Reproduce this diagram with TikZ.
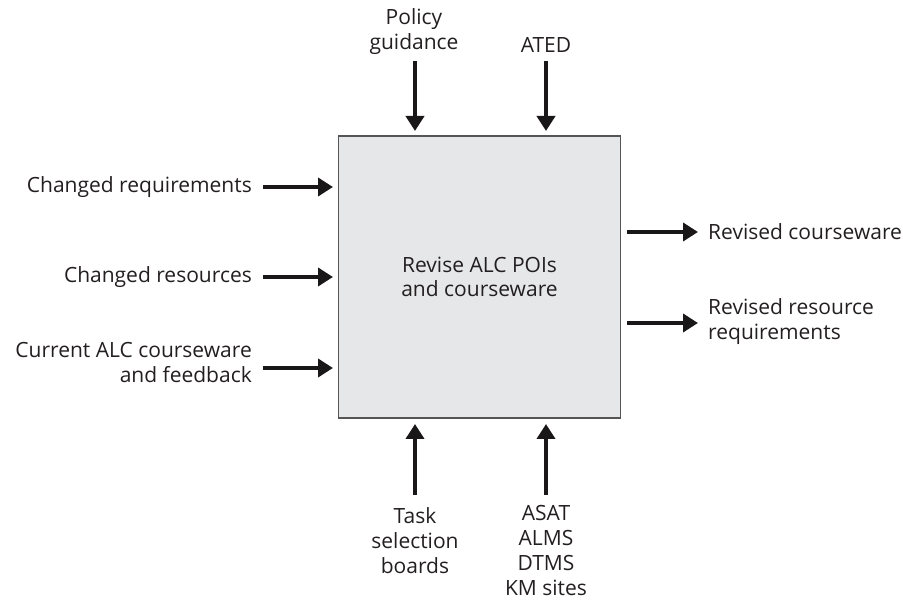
\documentclass[tikz,border=0pt]{standalone}
\usepackage{fontspec}
\setmainfont{Open Sans}
\usetikzlibrary{arrows.meta}
\definecolor{txt}{HTML}{231F20}
\definecolor{arr}{HTML}{1A1718}
\definecolor{boxline}{HTML}{555555}
\definecolor{boxfill}{HTML}{E6E7E8}
\tikzset{
  lbl/.style={font=\fontsize{21}{25}\selectfont, text=txt, inner sep=0pt},
  flow/.style={line width=4pt, draw=arr, -{Triangle[length=15pt,width=18pt]}},
  mainbox/.style={draw=boxline, line width=1.8pt, fill=boxfill, minimum width=282pt,
    minimum height=282pt, inner sep=0pt, align=center, text=txt,
    font=\fontsize{21}{25}\selectfont}
}
\begin{document}
\begin{tikzpicture}[x=1pt,y=-1pt]
\useasboundingbox (0,0) rectangle (903,601);
\node[mainbox] (main) at (479.5,277) {Revise ALC POIs\\[-1pt]and courseware};

% top inputs
\node[lbl, align=center] (policy) at (414,32) {Policy\\guidance};
\node[lbl] (ated) at (546,45) {ATED};
\coordinate (pa) at (415,61); \coordinate (pb) at (415,131);
\coordinate (aa) at (546,61); \coordinate (ab) at (546,131);
\draw[flow] (pa) -- (pb);
\draw[flow] (aa) -- (ab);

% left inputs
\node[lbl, anchor=east] (creq) at (252,187) {Changed requirements};
\node[lbl, anchor=east] (cres) at (252,277) {Changed resources};
\node[lbl, anchor=east, align=right] (cur) at (252,363) {Current ALC courseware\\and feedback};
\coordinate (c1a) at (263,187); \coordinate (c1b) at (333,187);
\coordinate (c2a) at (263,277); \coordinate (c2b) at (333,277);
\coordinate (c3a) at (263,368); \coordinate (c3b) at (333,368);
\draw[flow] (c1a) -- (c1b);
\draw[flow] (c2a) -- (c2b);
\draw[flow] (c3a) -- (c3b);

% right outputs
\node[lbl, anchor=west] (rcw) at (708,232) {Revised courseware};
\node[lbl, anchor=west, align=left] (rrr) at (708,322) {Revised resource\\requirements};
\coordinate (r1a) at (627,232); \coordinate (r1b) at (698,232);
\coordinate (r2a) at (627,323); \coordinate (r2b) at (698,323);
\draw[flow] (r1a) -- (r1b);
\draw[flow] (r2a) -- (r2b);

% bottom mechanisms
\node[lbl, align=center] (task) at (415,541) {Task\\selection\\boards};
\node[lbl, align=center] (asat) at (546,550) {ASAT\\ALMS\\DTMS\\KM sites};
\coordinate (ta) at (415,495); \coordinate (tb) at (415,424);
\coordinate (sa) at (546,495); \coordinate (sb) at (546,424);
\draw[flow] (ta) -- (tb);
\draw[flow] (sa) -- (sb);
\end{tikzpicture}
\end{document}
